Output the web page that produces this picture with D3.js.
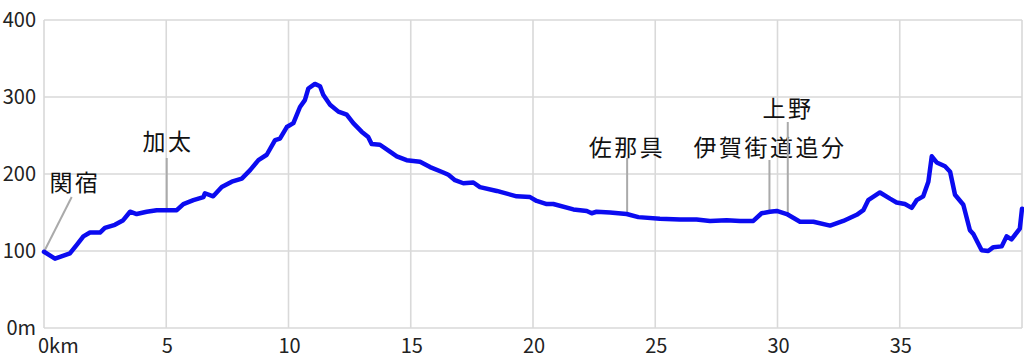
<!DOCTYPE html>
<html><head><meta charset="utf-8">
<script src="https://cdn.jsdelivr.net/npm/d3@7"></script>
<style>
html,body{margin:0;padding:0;background:#fff;}
svg{display:block;font-family:"Noto Sans CJK JP","Noto Sans",sans-serif;}
</style></head>
<body><svg id="c" width="1024" height="362"></svg>
<script>
// distance (km) and elevation (m)
const distKm = [0,0.45,1.06,1.34,1.61,1.88,2.29,2.49,2.9,3.24,3.52,3.79,4.2,4.61,5.02,5.43,5.7,6.11,6.52,6.58,6.92,7.27,7.68,8.09,8.43,8.77,9.11,9.45,9.65,9.93,10.2,10.47,10.67,10.81,11.08,11.29,11.42,11.7,12.04,12.38,12.65,12.99,13.26,13.4,13.74,14.15,14.43,14.83,15.38,15.79,16.33,16.54,16.81,17.15,17.56,17.83,18.52,19.33,19.88,20.15,20.56,20.83,21.65,22.2,22.4,22.6,23.15,23.83,24.31,25.19,26.01,26.69,27.24,27.92,28.47,29.01,29.35,29.69,29.97,30.38,30.92,31.47,32.15,32.69,33.24,33.51,33.71,34.19,34.6,34.87,35.21,35.49,35.69,35.96,36.17,36.31,36.51,36.85,37.06,37.26,37.6,37.87,38.01,38.35,38.62,38.83,39.17,39.37,39.57,39.91,40.0];
const elevM = [99,90,97,108,119,124,124,130,134,140,151,148,151,153,153,153,161,166,170,175,171,183,190,194,205,218,225,244,246,261,266,287,296,311,317,314,303,290,281,277,266,255,248,239,238,229,223,218,216,209,202,199,192,188,189,183,178,171,170,165,161,161,154,152,149,151,150,148,144,142,141,141,139,140,139,139,149,151,152,148,138,138,133,139,147,153,166,176,168,163,161,156,166,171,190,223,215,210,203,173,160,127,122,101,100,105,106,119,115,129,155];
const xTicks = [0,5,10,15,20,25,30,35];
const xTickLabels = ["0km","5","10","15","20","25","30","35"];
const yTicks = [0,100,200,300,400];
const yTickLabels = ["0m","100","200","300","400"];
const placeNames = ["関宿","加太","佐那具","伊賀街道追分","上野"];
const placeKm = [0,5.02,23.85,29.67,30.42];

// layout
const svg = d3.select("#c");
const L=44,R=1022,T=20,B=328;
const x = d3.scaleLinear().domain([0,40]).range([L,R]);
const y = d3.scaleLinear().domain([0,400]).range([B,T]);
const grid = "#d9d9d9";

// grid
svg.append("g").selectAll("line").data(yTicks).join("line")
  .attr("x1",L).attr("x2",R).attr("y1",d=>y(d)).attr("y2",d=>y(d))
  .attr("stroke",grid).attr("stroke-width",1.6);
svg.append("g").selectAll("line").data(xTicks.concat([40])).join("line")
  .attr("y1",T).attr("y2",B).attr("x1",d=>x(d)).attr("x2",d=>x(d))
  .attr("stroke",grid).attr("stroke-width",1.6);

// tick labels
svg.append("g").selectAll("text").data(yTicks).join("text")
  .attr("x",36).attr("y",d=>y(d)+7).attr("text-anchor","end")
  .attr("font-size",20).attr("fill","#222")
  .text((d,i)=>yTickLabels[i]);
svg.append("g").selectAll("text").data(xTicks).join("text")
  .attr("x",d=>x(d)+1).attr("y",353).attr("text-anchor",(d,i)=>i===0?"start":"middle")
  .attr("dx",(d,i)=>i===0?-7:0)
  .attr("font-size",20).attr("fill","#222")
  .text((d,i)=>xTickLabels[i]);

// annotations
const interp = km => { const i = d3.bisectLeft(distKm, km); if(i<=0) return elevM[0]; const t=(km-distKm[i-1])/(distKm[i]-distKm[i-1]); return elevM[i-1]+t*(elevM[i]-elevM[i-1]); };
const annLayout = [
  {lx:75, ly:191, tx:71.7, ty:197},
  {lx:168, ly:150, tx:null, ty:158},
  {lx:627, ly:156, tx:null, ty:158},
  {lx:770, ly:156, tx:null, ty:160},
  {lx:788, ly:117, tx:null, ty:122}
];
placeNames.forEach((name,i)=>{
  const a = annLayout[i];
  const px = x(placeKm[i]), py = y(interp(placeKm[i]));
  svg.append("line").attr("x1",px).attr("y1",py)
    .attr("x2",a.tx===null?px:a.tx).attr("y2",a.ty)
    .attr("stroke","#aaa").attr("stroke-width",2);
  svg.append("text").attr("x",a.lx).attr("y",a.ly).attr("text-anchor","middle")
    .attr("font-size",23).attr("letter-spacing",2.5).attr("fill","#111")
    .text(name);
});

// profile
const pts = distKm.map((d,i)=>[d,elevM[i]]);
svg.append("path").datum(pts)
  .attr("d", d3.line().x(d=>x(d[0])).y(d=>y(d[1])))
  .attr("fill","none").attr("stroke","#0b0bf0").attr("stroke-width",4.5)
  .attr("stroke-linejoin","round").attr("stroke-linecap","round");
</script></body></html>
